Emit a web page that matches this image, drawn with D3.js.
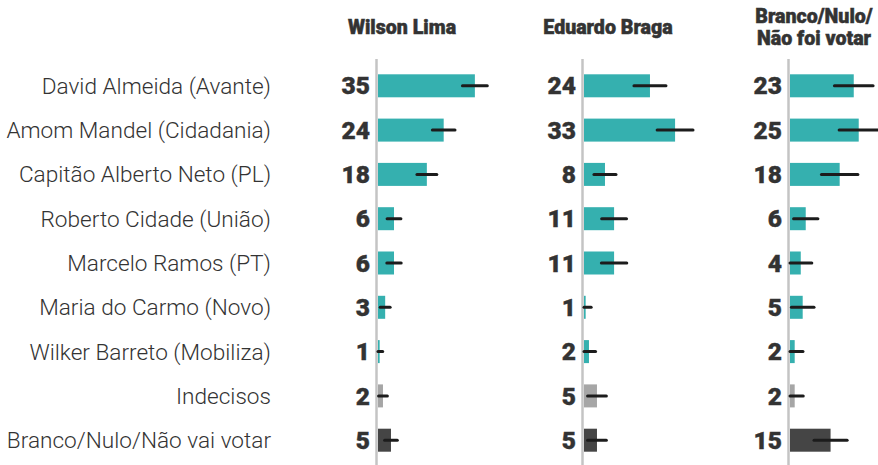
<!DOCTYPE html>
<html>
<head>
<meta charset="utf-8">
<script src="https://cdn.jsdelivr.net/npm/d3@7"></script>
<style>
  body { margin: 0; background: #fff; }
  text { font-family: Roboto, "Noto Sans", sans-serif; }
</style>
</head>
<body>
<script>
// linhas do gráfico
var categories = [
  "David Almeida (Avante)",
  "Amom Mandel (Cidadania)",
  "Capitão Alberto Neto (PL)",
  "Roberto Cidade (União)",
  "Marcelo Ramos (PT)",
  "Maria do Carmo (Novo)",
  "Wilker Barreto (Mobiliza)",
  "Indecisos",
  "Branco/Nulo/Não vai votar"
];

// títulos das colunas (eleitores de cada um em 2018)
var panelTitles = [["Wilson Lima"], ["Eduardo Braga"], ["Branco/Nulo/", "Não foi votar"]];

// intenção de voto (%) e margem de erro (p.p.) por coluna
var wilsonValues = [35.1, 23.8, 17.7, 5.8, 5.8, 2.6, 0.6, 1.8, 4.7];
var wilsonMargins = [4.5, 4.1, 3.6, 2.5, 2.6, 1.8, 1.1, 1.6, 2.3];
var bragaValues = [23.9, 33.0, 7.6, 10.9, 10.9, 0.6, 1.8, 4.7, 4.7];
var bragaMargins = [5.8, 6.5, 4.0, 4.5, 4.6, 2.0, 2.4, 3.4, 3.4];
var brancoValues = [23.1, 24.9, 18.0, 5.7, 3.9, 4.6, 1.7, 1.7, 14.7];
var brancoMargins = [7.0, 7.1, 6.6, 4.4, 4.0, 4.1, 3.0, 3.1, 6.0];

var panels = [
  {values: wilsonValues, margins: wilsonMargins},
  {values: bragaValues, margins: bragaMargins},
  {values: brancoValues, margins: brancoMargins}
];

var width = 878;
var height = 465;

var svg = d3.select("body").append("svg")
    .attr("width", width)
    .attr("height", height);

var y = d3.scalePoint().domain(categories).range([85.8, 440.2]);
var x = d3.scaleLinear().domain([0, 35]).range([0, 96.6]);
var barH = 23;

var color = d3.scaleOrdinal()
    .domain(categories)
    .range(["#35b0af", "#35b0af", "#35b0af", "#35b0af", "#35b0af", "#35b0af", "#35b0af", "#a6a6a6", "#454545"]);

var fmt = d3.format(".0f");

// rótulos das linhas
svg.append("g").selectAll("text")
    .data(categories)
    .enter().append("text")
    .attr("x", 271)
    .attr("y", d => y(d))
    .attr("dy", "0.355em")
    .attr("text-anchor", "end")
    .attr("font-size", "22.6px")
    .attr("font-weight", 300)
    .attr("fill", "#333")
    .text(d => d);

panels.forEach((p, i) => {
  var rows = categories.map((c, j) => ({cat: c, value: p.values[j], margin: p.margins[j]}));

  var g = svg.append("g")
      .attr("transform", "translate(" + (378 + 206 * i) + ",0)");

  // título
  var title = g.append("text")
      .attr("x", 24)
      .attr("text-anchor", "middle")
      .attr("font-size", "19.6px")
      .attr("font-weight", 900)
      .attr("fill", "#333")
      .attr("stroke", "#333")
      .attr("stroke-width", 0.5);
  var lines = panelTitles[i];
  var top = lines.length === 1 ? 33.5 : 23;
  lines.forEach((t, k) => {
    title.append("tspan").attr("x", 24).attr("y", top + k * 22).text(t);
  });

  // eixo
  g.append("line")
      .attr("x1", -1.5).attr("x2", -1.5)
      .attr("y1", 59).attr("y2", height)
      .attr("stroke", "#c4c4c4")
      .attr("stroke-width", 2.5);

  g.selectAll("rect")
      .data(rows)
      .enter().append("rect")
      .attr("x", 0)
      .attr("y", d => y(d.cat) - barH / 2)
      .attr("width", d => x(d.value))
      .attr("height", barH)
      .attr("fill", d => color(d.cat));

  g.selectAll("line.err")
      .data(rows)
      .enter().append("line")
      .attr("class", "err")
      .attr("x1", d => x(Math.max(0, d.value - d.margin)))
      .attr("x2", d => x(d.value + d.margin))
      .attr("y1", d => y(d.cat))
      .attr("y2", d => y(d.cat))
      .attr("stroke", "#1c1c1c")
      .attr("stroke-width", 3)
      .attr("stroke-linecap", "round");

  g.selectAll("text.val")
      .data(rows)
      .enter().append("text")
      .attr("class", "val")
      .attr("x", -8)
      .attr("y", d => y(d.cat))
      .attr("dy", "0.355em")
      .attr("text-anchor", "end")
      .attr("font-size", "24.5px")
      .attr("font-weight", 900)
      .attr("fill", "#333")
      .attr("stroke", "#333")
      .attr("stroke-width", 0.4)
      .text(d => fmt(d.value));
});
</script>
</body>
</html>
